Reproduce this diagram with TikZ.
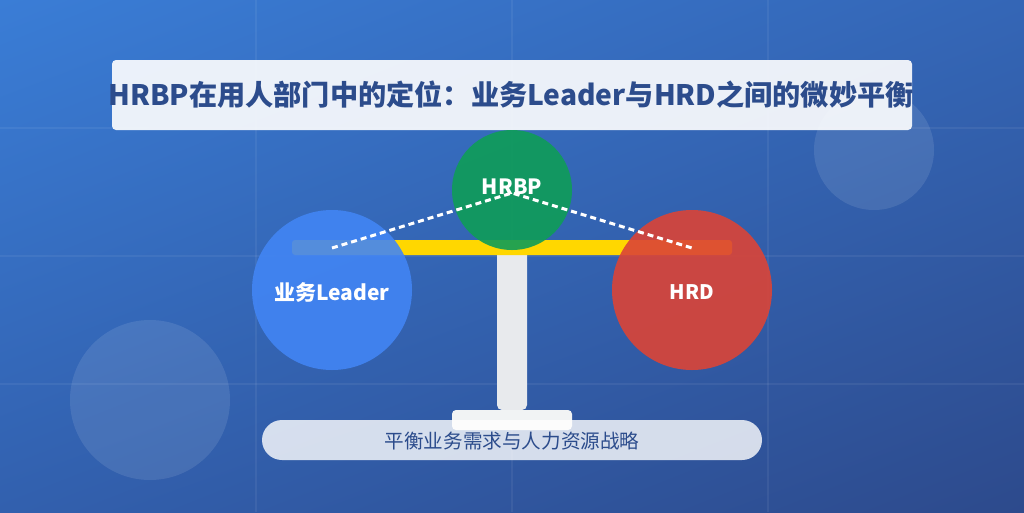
\documentclass[tikz,border=0pt]{standalone}
\usepackage{fontspec}
\usetikzlibrary{shadings}
\setmainfont{Noto Sans CJK SC}
\definecolor{bgTL}{RGB}{58,125,214}
\definecolor{bgTR}{RGB}{52,102,182}
\definecolor{bgBL}{RGB}{50,96,174}
\definecolor{bgBR}{RGB}{45,74,140}
\definecolor{titleblue}{RGB}{44,76,140}
\definecolor{gblue}{RGB}{66,133,244}
\definecolor{gred}{RGB}{219,68,55}
\definecolor{ggreen}{RGB}{15,157,88}
\definecolor{gold}{RGB}{255,215,0}
\definecolor{pillar}{RGB}{232,234,237}
\definecolor{basec}{RGB}{241,243,244}
\begin{document}
\begin{tikzpicture}[x=1pt,y=-1pt,
  gridline/.style={white,opacity=0.06,line width=2pt},
  deco/.style={fill=white,fill opacity=0.1,draw=none},
  party/.style={circle,minimum size=160pt,inner sep=0pt,fill opacity=0.9,text opacity=1,text=white},
  label/.style={text=white,font=\fontsize{21}{24}\selectfont\bfseries},
  link/.style={white,line width=3pt,dash pattern=on 6pt off 4pt}]
\useasboundingbox (0,0) rectangle (1024,512);
\shade[upper left=bgTL,upper right=bgTR,lower left=bgBL,lower right=bgBR] (0,0) rectangle (1024,512);
\foreach \g in {256,512,768} \draw[gridline] (\g,0) -- (\g,512);
\foreach \g in {128,256,384} \draw[gridline] (0,\g) -- (1024,\g);
\fill[deco] (874,150) circle (60);
\fill[deco] (150,400) circle (80);
% title
\fill[white,fill opacity=0.9,rounded corners=4pt] (112,60) rectangle (912,130);
\node[text=titleblue,font=\fontsize{28.2}{34}\selectfont\bfseries,inner sep=0pt] (title) at (511,95) {HRBP在用人部门中的定位：业务Leader与HRD之间的微妙平衡};
% scale
\fill[pillar,rounded corners=5pt] (497,248) rectangle (527,410);
\fill[gold,rounded corners=3pt] (292,240) rectangle (732,255);
\fill[basec,rounded corners=4pt] (452,410) rectangle (572,430);
\fill[white,fill opacity=0.8,rounded corners=20pt] (262,420) rectangle (762,460);
\node[text=titleblue,font=\fontsize{19.6}{22}\selectfont,inner sep=0pt] (motto) at (512,441) {平衡业务需求与人力资源战略};
% parties
\node[party,fill=gblue] (lead) at (332,290) {};
\node[party,fill=gred] (hrd) at (692,290) {};
\node[party,minimum size=120pt,fill=ggreen] (hrbp) at (512,190) {};
\coordinate (pl) at (332,248);
\coordinate (pc) at (512,193);
\coordinate (pr) at (692,248);
\draw[link] (pl) -- (pc) -- (pr);
\node[label] at ([yshift=-2pt]lead.center) {业务Leader};
\node[label,font=\fontsize{20}{24}\selectfont\bfseries] at ([yshift=-2pt]hrd.center) {HRD};
\node[label] at ([yshift=3pt]hrbp.center) {HRBP};
\end{tikzpicture}
\end{document}
